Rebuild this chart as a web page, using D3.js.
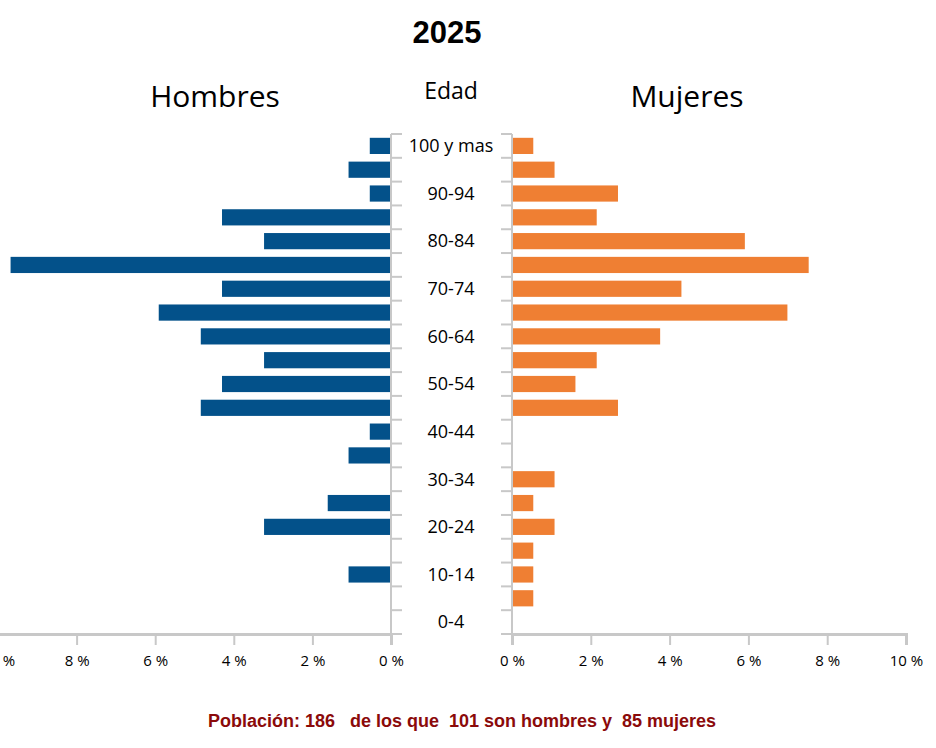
<!DOCTYPE html>
<html>
<head>
<meta charset="utf-8">
<script src="https://cdnjs.cloudflare.com/ajax/libs/d3/7.8.5/d3.min.js"></script>
<style>
  body { margin: 0; background: #fff; }
  svg { display: block; }
</style>
</head>
<body>
<div id="chart"></div>
<script>
// age groups, top to bottom
var ages = ["100 y mas", "95-99", "90-94", "85-89", "80-84", "75-79", "70-74", "65-69",
  "60-64", "55-59", "50-54", "45-49", "40-44", "35-39", "30-34", "25-29", "20-24",
  "15-19", "10-14", "5-9", "0-4"];
// percentage of total population
var hombres = [0.54, 1.08, 0.54, 4.30, 3.23, 9.68, 4.30, 5.91, 4.84, 3.23, 4.30, 4.84,
  0.54, 1.08, 0, 1.61, 3.23, 0, 1.08, 0, 0];
var mujeres = [0.54, 1.08, 2.69, 2.15, 5.91, 7.53, 4.30, 6.99, 3.76, 2.15, 1.61, 2.69,
  0, 0, 1.08, 0.54, 1.08, 0.54, 0.54, 0.54, 0];
var ageLabels = ["100 y mas", "90-94", "80-84", "70-74", "60-64", "50-54", "40-44",
  "30-34", "20-24", "10-14", "0-4"];
var pctTicks = [0, 2, 4, 6, 8, 10];

var width = 936, height = 748;
var svg = d3.select("#chart").append("svg")
  .attr("width", width)
  .attr("height", height);

var y = d3.scaleBand().domain(ages).range([134, 634]).paddingInner(0.32).paddingOuter(0.16);
var yTicks = d3.scaleBand().domain(ages).range([134, 634]);
var xL = d3.scaleLinear().domain([0, 10]).range([391, -2]);
var xR = d3.scaleLinear().domain([0, 10]).range([512, 906]);

// title
svg.append("text")
  .attr("x", 447).attr("y", 43)
  .attr("text-anchor", "middle")
  .style("font-family", "Liberation Sans, Arial, sans-serif")
  .style("font-weight", "bold")
  .style("font-size", "31px")
  .text("2025");

svg.append("text").attr("x", 215).attr("y", 107).attr("text-anchor", "middle")
  .style("font-family", "Open Sans, sans-serif").style("font-size", "30px").text("Hombres");
svg.append("text").attr("x", 687).attr("y", 107).attr("text-anchor", "middle")
  .style("font-family", "Open Sans, sans-serif").style("font-size", "30px").text("Mujeres");
svg.append("text").attr("x", 451).attr("y", 99).attr("text-anchor", "middle")
  .style("font-family", "Open Sans, sans-serif").style("font-size", "23px").text("Edad");

// bars
svg.append("g").selectAll("rect").data(ages).enter().append("rect")
  .attr("x", function (d, i) { return xL(hombres[i]); })
  .attr("y", function (d) { return y(d); })
  .attr("width", function (d, i) { return xL(0) - xL(hombres[i]); })
  .attr("height", y.bandwidth())
  .attr("fill", "#03518a");

svg.append("g").selectAll("rect").data(ages).enter().append("rect")
  .attr("x", xR(0))
  .attr("y", function (d) { return y(d); })
  .attr("width", function (d, i) { return xR(mujeres[i]) - xR(0); })
  .attr("height", y.bandwidth())
  .attr("fill", "#ef7f33");

// vertical axes with ticks at band boundaries
var gray = "#c8c8c8";
var bounds = ages.map(function (d) { return yTicks(d); }).concat([634]);
svg.append("line").attr("x1", 391).attr("x2", 391).attr("y1", 134).attr("y2", 645)
  .attr("stroke", gray).attr("stroke-width", 2);
svg.append("line").attr("x1", 512).attr("x2", 512).attr("y1", 134).attr("y2", 645)
  .attr("stroke", gray).attr("stroke-width", 2);
svg.append("g").selectAll("line").data(bounds).enter().append("line")
  .attr("x1", 391).attr("x2", 402).attr("y1", function (d) { return d; }).attr("y2", function (d) { return d; })
  .attr("stroke", gray).attr("stroke-width", 2);
svg.append("g").selectAll("line").data(bounds).enter().append("line")
  .attr("x1", 501).attr("x2", 512).attr("y1", function (d) { return d; }).attr("y2", function (d) { return d; })
  .attr("stroke", gray).attr("stroke-width", 2);

// age labels
svg.append("g").selectAll("text").data(ageLabels).enter().append("text")
  .attr("x", 451)
  .attr("y", function (d) { return yTicks(d) + yTicks.bandwidth() / 2; })
  .attr("dy", "0.35em")
  .attr("text-anchor", "middle")
  .style("font-family", "Open Sans, sans-serif")
  .style("font-size", "18px")
  .text(function (d) { return d; });

// bottom axes
function pctAxis(scale) {
  return d3.axisBottom(scale).tickValues(pctTicks).tickSize(11).tickPadding(10)
    .tickFormat(function (d) { return d + " %"; });
}
[xL, xR].forEach(function (s) {
  var g = svg.append("g").attr("transform", "translate(0,634)").call(pctAxis(s));
  g.select(".domain").attr("stroke", gray).attr("stroke-width", 3);
  g.selectAll(".tick line").attr("stroke", gray).attr("stroke-width", 2);
  g.selectAll(".tick text").attr("fill", "#000")
    .style("font-family", "Open Sans, sans-serif").style("font-size", "15px");
});

// footer
svg.append("text")
  .attr("x", 462).attr("y", 727)
  .attr("text-anchor", "middle")
  .attr("xml:space", "preserve")
  .style("white-space", "pre")
  .style("font-family", "Liberation Sans, Arial, sans-serif")
  .style("font-weight", "bold")
  .style("font-size", "18px")
  .attr("fill", "#8b0a0a")
  .text("Población: 186   de los que  101 son hombres y  85 mujeres");
</script>
</body>
</html>
